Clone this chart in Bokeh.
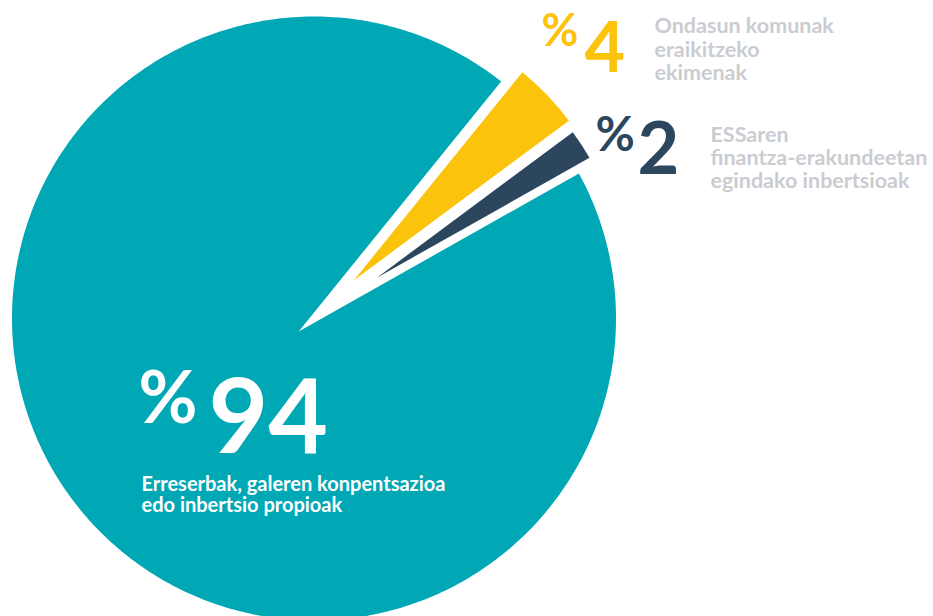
import math
from bokeh.plotting import figure
from bokeh.models import Range1d
from bokeh.core.properties import value
from bokeh.embed import file_html
from bokeh.resources import INLINE

# ---- data ----
categories = ["Erreserbak", "ESSaren inbertsioak", "Ondasun komunak"]
shares = [94, 2, 4]
colors = ["#00A8B6", "#2C465E", "#FCC30C"]
pct_labels = ["94", "2", "4"]
label_lines = [
    ["Erreserbak, galeren konpentsazioa", "edo inbertsio propioak"],
    ["ESSaren", "finantza-erakundeetan", "egindako inbertsioak"],
    ["Ondasun komunak", "eraikitzeko", "ekimenak"],
]

# ---- layout ----
W, H = 933, 616
CX, CY = 313.5, 298.0          # pie centre (plot units = pixels)
START_DEG = 51.0
explode = [20, 75, 55]
radii = [302, 244, 268]

p = figure(width=W, height=H, output_backend="svg", toolbar_location=None,
           x_range=Range1d(0, W), y_range=Range1d(0, H), min_border=0)
p.axis.visible = False
p.grid.visible = False
p.outline_line_color = None
p.background_fill_color = "white"
p.border_fill_color = "white"

total = float(sum(shares))
angles = []
a = math.radians(START_DEG)
for s in shares:
    b = a + 2 * math.pi * s / total
    angles.append((a, b))
    a = b

for i, (a0, a1) in enumerate(angles):
    mid = (a0 + a1) / 2
    ox = CX + explode[i] * math.cos(mid)
    oy = CY + explode[i] * math.sin(mid)
    if i == 0:
        # big slice: apex pushed in, arc kept on the main circle
        R = radii[0]

        def hit(theta):
            dx, dy = math.cos(theta), math.sin(theta)
            ax, ay = ox - CX, oy - CY
            bdot = ax * dx + ay * dy
            t = -bdot + math.sqrt(bdot * bdot - (ax * ax + ay * ay - R * R))
            px, py = ox + t * dx, oy + t * dy
            return math.atan2(py - CY, px - CX)

        t0 = hit(a0)
        t1 = hit(a1)
        while t1 < t0:
            t1 += 2 * math.pi
        n = 400
        xs = [ox]
        ys = [oy]
        for k in range(n + 1):
            t = t0 + (t1 - t0) * k / n
            xs.append(CX + R * math.cos(t))
            ys.append(CY + R * math.sin(t))
        p.patch(xs, ys, fill_color=colors[0], line_color=None)
    else:
        p.wedge(x=[ox], y=[oy], radius=radii[i], start_angle=a0, end_angle=a1,
                fill_color=colors[i], line_color=None)

FONT = value("Lato")
K = 0.385  # baseline compensation (fraction of font size)


def put(x, base_screen_y, txt, size, color):
    p.text(x=[x], y=[H - base_screen_y + K * size], text=[txt], text_font=FONT,
           text_font_style="bold", text_font_size=f"{size}px", text_color=color,
           text_baseline="alphabetic", text_align="left")


# percent signs and numbers: (x%, base%, xnum, basenum)
pct_pos = [(138, 422, 208, 455), (595, 150, 637, 175), (541, 46, 584, 73)]
pct_sizes = [(72, 103), (48, 72), (45, 70)]
pct_colors = ["white", colors[1], colors[2]]
for i in range(3):
    sx, sy, nx, ny = pct_pos[i]
    put(sx, sy, "%", pct_sizes[i][0], pct_colors[i])
    put(nx, ny, pct_labels[i], pct_sizes[i][1], pct_colors[i])

# descriptive labels: (x, first baseline, line step)
lab_pos = [(141, 490, 21), (710, 142, 23), (654, 33, 23.5)]
lab_colors = ["white", "#CBCCD2", "#CBCCD2"]
lab_sizes = [20, 21.5, 21.5]
for i in range(3):
    lx, ly, step = lab_pos[i]
    for k, line in enumerate(label_lines[i]):
        put(lx, ly + step * k, line, lab_sizes[i], lab_colors[i])

open("out.html", "w").write(file_html(p, INLINE))
